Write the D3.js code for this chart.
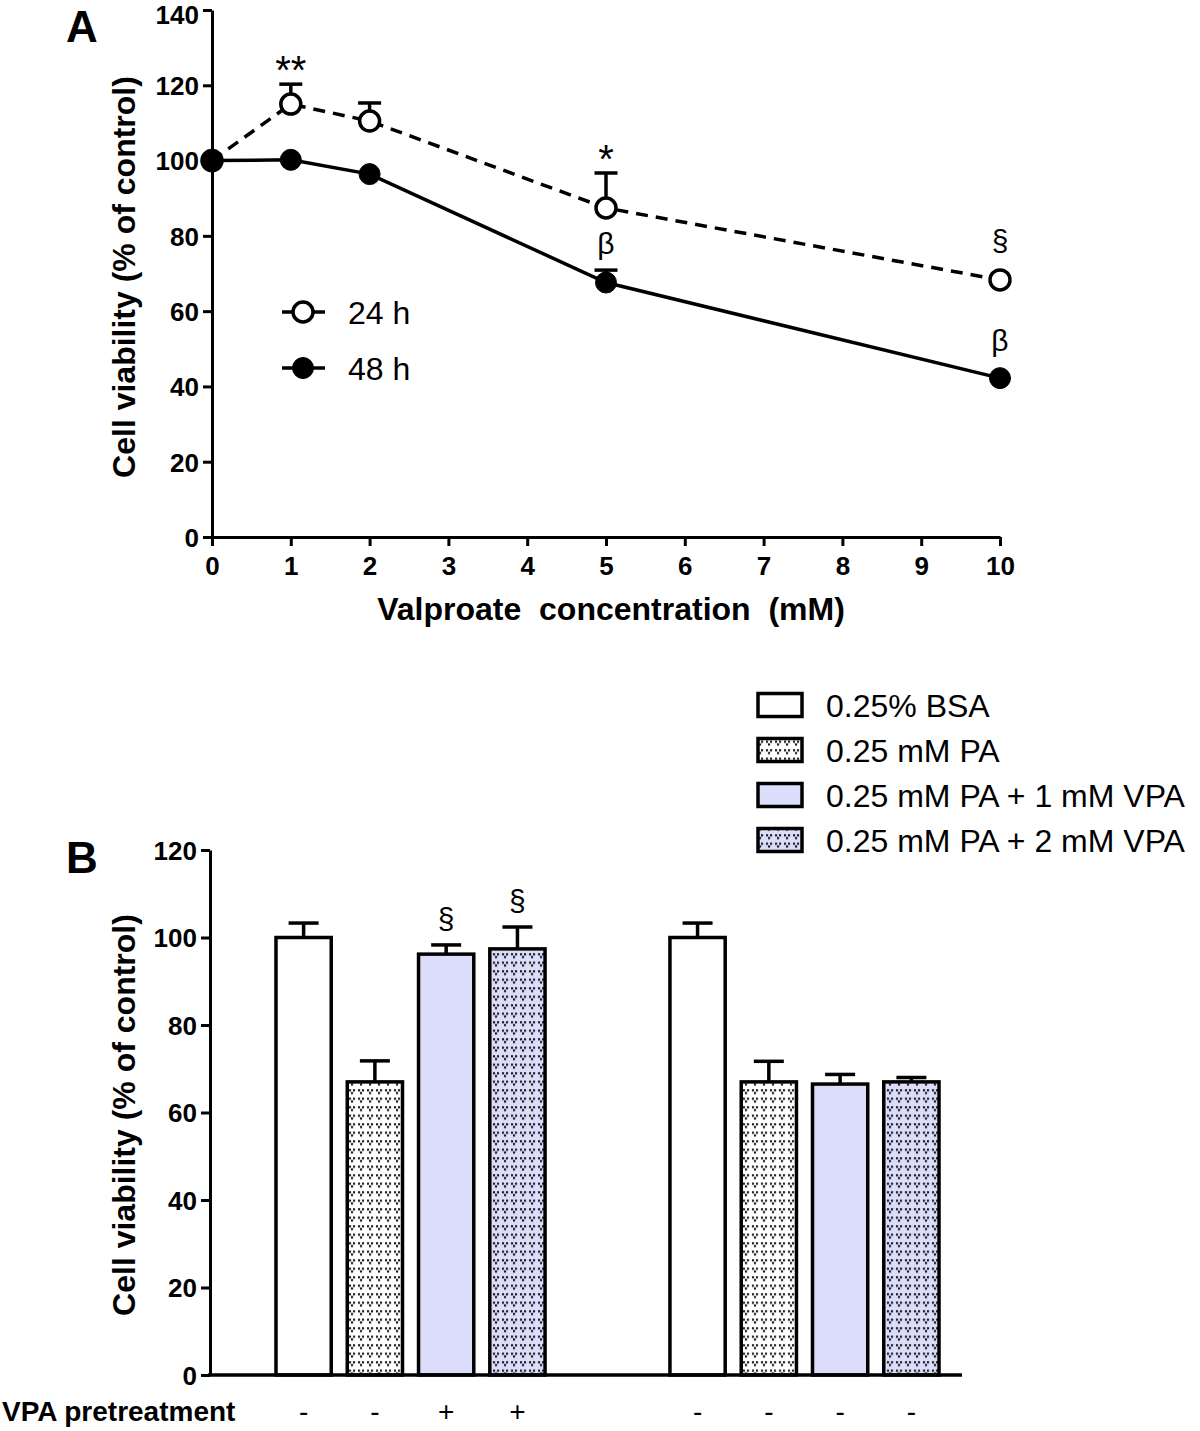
<!DOCTYPE html>
<html><head><meta charset="utf-8">
<script src="https://cdn.jsdelivr.net/npm/d3@7"></script>
<style>
body{margin:0;background:#fff;}
svg{display:block;font-family:"Liberation Sans",Arial,sans-serif;}
</style></head>
<body><svg id="c" width="1200" height="1431"></svg>
<script>
// ---------- Panel A data ----------
const concA = [0, 1, 2, 5, 10];
const mean24 = [100, 115.0, 110.5, 87.4, 68.3];
const err24  = [0, 5.3, 4.8, 9.3, 0];
const mean48 = [100, 100.2, 96.4, 67.6, 42.2];
const err48  = [0, 0, 0, 3.3, 0];
const sig24  = ["", "**", "", "*", "§"];
const sig48  = ["", "", "", "β", "β"];
const ticksAy = [0, 20, 40, 60, 80, 100, 120, 140];
const ticksAx = [0, 1, 2, 3, 4, 5, 6, 7, 8, 9, 10];
const seriesA = ["24 h", "48 h"];

// ---------- Panel B data ----------
const groupsB = ["pre", "nopre"];
const treatB = ["0.25% BSA", "0.25 mM PA", "0.25 mM PA + 1 mM VPA", "0.25 mM PA + 2 mM VPA"];
const meanBpre   = [100, 67.0, 96.2, 97.4];
const errBpre    = [3.3, 4.8, 2.1, 5.0];
const meanBnopre = [100, 67.0, 66.5, 67.0];
const errBnopre  = [3.3, 4.7, 2.2, 1.0];
const sigBpre    = ["", "", "§", "§"];
const sigBnopre  = ["", "", "", ""];
const vpaPre     = ["-", "-", "+", "+"];
const vpaNopre   = ["-", "-", "-", "-"];
const ticksBy = [0, 20, 40, 60, 80, 100, 120];

const svg = d3.select("#c");
const LAV = "#dcddfa";

// patterns
const defs = svg.append("defs");
function dotPattern(id, bg){
  const p = defs.append("pattern").attr("id", id).attr("patternUnits","userSpaceOnUse")
    .attr("width", 9).attr("height", 8.5);
  p.append("rect").attr("width", 9).attr("height", 8.5).attr("fill", bg);
  [[1.0,1.2],[5.0,1.2],[3.0,4.0]].forEach(d=>{
    p.append("rect").attr("x", d[0]).attr("y", d[1]).attr("width", 2.1).attr("height", 2.1).attr("fill", "#111");
  });
}
dotPattern("dotW", "#fff");
dotPattern("dotL", LAV);
const fills = ["#fff", "url(#dotW)", LAV, "url(#dotL)"];

// ================= Panel A =================
const xA = d3.scaleLinear().domain([0, 10]).range([212, 1000]);
const yA = d3.scaleLinear().domain([0, 140]).range([537, 10]);

const gA = svg.append("g");
const axA = gA.append("g").attr("transform", `translate(${xA(0)},0)`)
  .call(d3.axisLeft(yA).tickValues(ticksAy).tickSize(9).tickSizeOuter(0).tickPadding(4));
const axAx = gA.append("g").attr("transform", `translate(0,${yA(0)})`)
  .call(d3.axisBottom(xA).tickValues(ticksAx).tickSize(9).tickSizeOuter(0).tickPadding(6));
[axA, axAx].forEach(a=>{
  a.selectAll("path,line").attr("stroke", "#000").attr("stroke-width", 3);
  a.selectAll("text").attr("fill", "#000").style("font-size", "26px").style("font-weight", "bold");
});
axAx.selectAll("text").attr("dy", "0.9em");
axA.selectAll("text").attr("dy", d => d === 140 ? "0.52em" : "0.36em");

gA.append("text").attr("x", 611).attr("y", 620).attr("text-anchor", "middle")
  .style("font-size", "32px").style("font-weight", "bold")
  .text("Valproate\u00a0 concentration\u00a0 (mM)");
gA.append("text").attr("transform", `translate(135,277) rotate(-90)`).attr("text-anchor", "middle")
  .style("font-size", "32px").style("font-weight", "bold").text("Cell viability (% of control)");
gA.append("text").attr("x", 66).attr("y", 42).style("font-size", "44px").style("font-weight", "bold").text("A");

const line = d3.line().x(d=>xA(d[0])).y(d=>yA(d[1]));
const d24 = concA.map((c,i)=>[c, mean24[i], err24[i], sig24[i]]);
const d48 = concA.map((c,i)=>[c, mean48[i], err48[i], sig48[i]]);

function drawSeries(data, open){
  const g = gA.append("g");
  g.append("path").datum(data).attr("d", line).attr("fill", "none").attr("stroke", "#000")
    .attr("stroke-width", 3.5).attr("stroke-dasharray", open ? "12,8" : null);
  data.filter(d=>d[2]>0).forEach(d=>{
    const x = xA(d[0]), yt = yA(d[1]+d[2]);
    g.append("line").attr("x1", x).attr("x2", x).attr("y1", yA(d[1])).attr("y2", yt).attr("stroke","#000").attr("stroke-width",3.5);
    g.append("line").attr("x1", x-11.5).attr("x2", x+11.5).attr("y1", yt).attr("y2", yt).attr("stroke","#000").attr("stroke-width",3.5);
  });
  g.selectAll("circle").data(data).join("circle").attr("cx", d=>xA(d[0])).attr("cy", d=>yA(d[1]))
    .attr("r", open ? 10 : 10.5).attr("fill", open ? "#fff" : "#000").attr("stroke", "#000").attr("stroke-width", open ? 3.5 : 1);
  data.filter(d=>d[3]).forEach(d=>{
    const top = d[2] > 0 ? yA(d[1]+d[2]) : yA(d[1]) - 11;
    const star = d[3].includes("*");
    const gap = star ? 0 : (d[3] === "§" ? 18 : 16);
    g.append("text").attr("x", xA(d[0])).attr("y", top - gap).attr("text-anchor", "middle")
      .style("font-size", star ? "40px" : "30px").text(d[3]);
  });
}
drawSeries(d24, true);
drawSeries(d48, false);

// legend A
seriesA.forEach((s,i)=>{
  const y = 312 + i*56;
  const g = gA.append("g");
  g.append("line").attr("x1", 282).attr("x2", 325).attr("y1", y).attr("y2", y).attr("stroke","#000")
    .attr("stroke-width", 3.5).attr("stroke-dasharray", i===0 ? "14,6,3,6" : null);
  g.append("circle").attr("cx", 303).attr("cy", y).attr("r", i===0 ? 10 : 10.5)
    .attr("fill", i===0 ? "#fff" : "#000").attr("stroke","#000").attr("stroke-width", i===0 ? 3.5 : 1);
  g.append("text").attr("x", 348).attr("y", y).attr("dy", "0.36em").style("font-size", "32px").text(s);
});

// ================= Panel B =================
const yB = d3.scaleLinear().domain([0, 120]).range([1375, 850]);
const xG = d3.scaleBand().domain(groupsB).range([210, 1005]).paddingInner(0.317).paddingOuter(0.1675);
const xT = d3.scaleBand().domain(treatB).range([0, xG.bandwidth()]).paddingInner(0.225).paddingOuter(0);

const gB = svg.append("g");
const axB = gB.append("g").attr("transform", `translate(210,0)`)
  .call(d3.axisLeft(yB).tickValues(ticksBy).tickSize(9).tickSizeOuter(0).tickPadding(4));
axB.selectAll("path,line").attr("stroke","#000").attr("stroke-width",3);
axB.selectAll("text").attr("fill","#000").style("font-size","26px").style("font-weight","bold").attr("dy","0.36em");
gB.append("text").attr("transform", `translate(135,1115) rotate(-90)`).attr("text-anchor","middle")
  .style("font-size","32px").style("font-weight","bold").text("Cell viability (% of control)");
gB.append("text").attr("x", 66).attr("y", 873).style("font-size","44px").style("font-weight","bold").text("B");

const groupData = [
  {g:"pre", m:meanBpre, e:errBpre, s:sigBpre, v:vpaPre},
  {g:"nopre", m:meanBnopre, e:errBnopre, s:sigBnopre, v:vpaNopre}
];
groupData.forEach(G=>{
  const g = gB.append("g").attr("transform", `translate(${xG(G.g)},0)`);
  treatB.forEach((t,i)=>{
    const x = xT(t), w = xT.bandwidth(), cx = x + w/2;
    const yt = yB(G.m[i]+G.e[i]);
    g.append("line").attr("x1", cx).attr("x2", cx).attr("y1", yB(G.m[i])).attr("y2", yt).attr("stroke","#000").attr("stroke-width",3.5);
    g.append("line").attr("x1", cx-15).attr("x2", cx+15).attr("y1", yt).attr("y2", yt).attr("stroke","#000").attr("stroke-width",3.5);
    g.append("rect").attr("x", x).attr("y", yB(G.m[i])).attr("width", w).attr("height", yB(0)-yB(G.m[i]))
      .attr("fill", fills[i]).attr("stroke","#000").attr("stroke-width",3.5);
    if (G.s[i]) g.append("text").attr("x", cx).attr("y", yt - 16).attr("text-anchor","middle").style("font-size","30px").text(G.s[i]);
    g.append("text").attr("x", cx).attr("y", 1421).attr("text-anchor","middle").style("font-size","28px").text(G.v[i]);
  });
});
// x baseline
gB.append("line").attr("x1", 208).attr("x2", 962).attr("y1", yB(0)).attr("y2", yB(0)).attr("stroke","#000").attr("stroke-width",3.5);
gB.append("text").attr("x", 2).attr("y", 1421).style("font-size","28px").style("font-weight","bold").text("VPA pretreatment");

// legend B
treatB.forEach((t,i)=>{
  const y = 705 + i*45;
  gB.append("rect").attr("x", 758).attr("y", y-11.5).attr("width", 44).attr("height", 23)
    .attr("fill", fills[i]).attr("stroke","#000").attr("stroke-width",3.5);
  gB.append("text").attr("x", 826).attr("y", y).attr("dy","0.36em").style("font-size","32px").text(t);
});
</script></body></html>
